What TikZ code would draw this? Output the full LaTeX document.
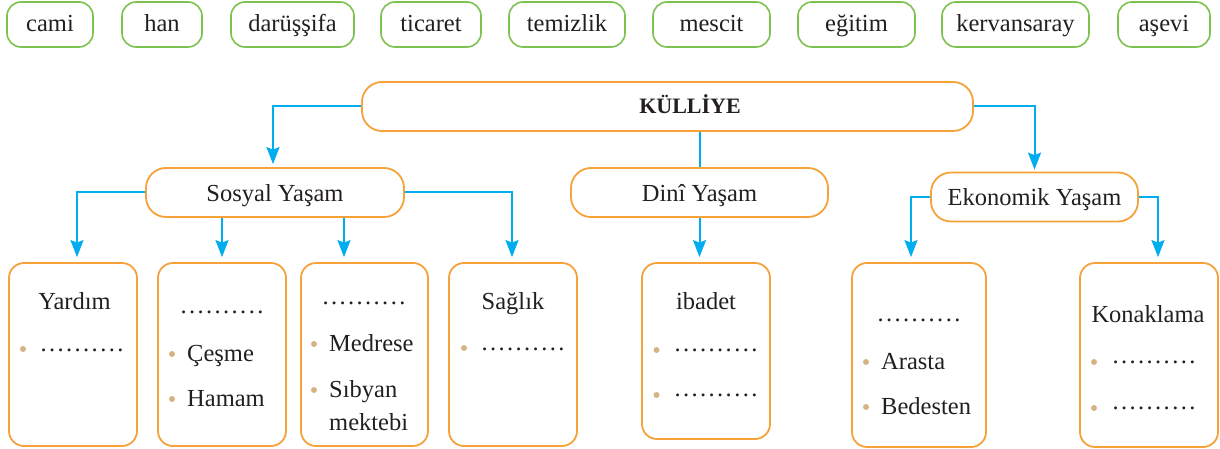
\documentclass[tikz,border=0pt]{standalone}
\usepackage{fontspec}
\setmainfont{Liberation Serif}
\usetikzlibrary{arrows.meta}
\newcommand{\BodyFont}{\fontsize{24.5}{33}\selectfont}
\newcommand{\HeadFont}{\fontsize{22}{26}\selectfont\bfseries}
\newcommand{\DotGap}{\kern2.4pt}
\newcommand{\Blank}{.\DotGap.\DotGap.\DotGap.\DotGap.\DotGap.\DotGap.\DotGap.\DotGap.\DotGap.}
\newcommand{\BulletR}{3}
\newcommand{\ListTop}{263}
\definecolor{WordGreen}{HTML}{7CC24E}
\definecolor{BoxOrange}{HTML}{F6A13A}
\definecolor{LinkBlue}{HTML}{00AEEF}
\definecolor{BulletTan}{HTML}{D4B483}
\definecolor{InkGray}{HTML}{231F20}
\tikzset{
	wordbox/.style={draw=WordGreen, line width=1.6pt, rounded corners=14pt, minimum height=45pt, inner sep=0pt, text height=15pt, text depth=0pt},
	headbox/.style={draw=BoxOrange, line width=1.8pt, rounded corners=20pt, minimum height=49pt, inner sep=0pt, text height=18pt, text depth=0pt},
	listbox/.style={draw=BoxOrange, line width=1.8pt, rounded corners=15pt, inner sep=0pt},
	link/.style={draw=LinkBlue, line width=2pt},
	entry/.style={inner sep=0pt, anchor=base west},
}

\begin{document}
\begin{tikzpicture}[x=1pt, y=-1pt, >={Stealth[length=17pt,width=13pt,inset=2.5pt]}, font=\BodyFont, text=InkGray]
	\useasboundingbox (0,0) rectangle (1220,449);
	
	\foreach \word/\cx/\bw [count=\i] in {cami/50/86, han/162/80, darüşşifa/292.5/123, ticaret/431/100, temizlik/567/116, mescit/711.5/117, eğitim/856.5/117, kervansaray/1015.5/147, aşevi/1164/92}{
		\node[wordbox, minimum width={\bw*1pt}] (w\i) at (\cx, 24.5) {\word};
	}
	
	\node[headbox, minimum width=611pt] (kulliye) at (667.5,106.5) {};
	\node[font=\HeadFont, anchor=base, inner sep=0pt] (kulliyetext) at (690,114) {KÜLLİYE};
	\node[headbox, minimum width=258pt] (sosyal) at (275,192.5) {Sosyal Yaşam};
	\node[headbox, minimum width=257pt] (dini) at (699.5,192.5) {Dinî Yaşam};
	\node[headbox, minimum width=207pt] (ekonomik) at (1034.5,197) {Ekonomik Yaşam};
	
	\foreach \nm/\xl/\xr/\yb in {b1/9/137/446, b2/158/286/446, b3/301/428/446, b4/449/577/446, b5/642/770/439, b6/852/986/447, b7/1080/1218/447}{
		\node[listbox, minimum width={(\xr-\xl)*1pt}, minimum height={(\yb-\ListTop)*1pt}] (\nm) at ({(\xl+\xr)/2}, {(\ListTop+\yb)/2}) {};
	}
	
	\foreach \bx/\by in {23/349, 172/354, 172/399, 314/344, 314/390, 464/348, 656.5/350, 656.5/395, 866/362, 866/407, 1094/362, 1094/408}{
		\fill[BulletTan] (\bx,\by) circle (\BulletR);
	}
	
	\node[entry, anchor=base] (yardim) at (74.5,309.5) {Yardım};
	\node[entry] (yardimdots) at (40.4,351.5) {\Blank};
	\node[entry, anchor=base] (b2dots) at (222,313.5) {\Blank};
	\node[entry] (cesme) at (187,361) {Çeşme};
	\node[entry] (hamam) at (187,406) {Hamam};
	\node[entry, anchor=base] (b3dots) at (364,304) {\Blank};
	\node[entry] (medrese) at (329,351) {Medrese};
	\node[entry] (sibyan) at (329,397) {Sıbyan};
	\node[entry] (mektebi) at (329,430) {mektebi};
	\node[entry, anchor=base] (saglik) at (513,309.5) {Sağlık};
	\node[entry] (saglikdots) at (481.4,350) {\Blank};
	\node[entry, anchor=base] (ibadet) at (706,309.5) {ibadet};
	\node[entry] (ibadetdots1) at (674.4,351.5) {\Blank};
	\node[entry] (ibadetdots2) at (674.4,396.5) {\Blank};
	\node[entry, anchor=base] (b6dots) at (919,321.5) {\Blank};
	\node[entry] (arasta) at (881,369) {Arasta};
	\node[entry] (bedesten) at (881,414) {Bedesten};
	\node[entry, anchor=base] (konaklama) at (1148,322) {Konaklama};
	\node[entry] (konakdots1) at (1112.4,363.5) {\Blank};
	\node[entry] (konakdots2) at (1112.4,409.5) {\Blank};
	
	\draw[link, ->, shorten >=3pt] (kulliye.west) -| ([xshift=-2pt]sosyal.north);
	\draw[link, ->, shorten >=2pt] (kulliye.east) -| (ekonomik.north);
	\draw[link] (kulliye.south -| dini.north) -- (dini.north);
	\draw[link, ->, shorten >=5pt] (dini.south) -- (dini.south |- b5.north);
	\draw[link, ->, shorten >=5pt] (sosyal.west) -| ([xshift=4pt]b1.north);
	\draw[link, ->, shorten >=5pt] (sosyal.south -| b2.north) -- (b2.north);
	\draw[link, ->, shorten >=5pt] ([xshift=-20.5pt]sosyal.south -| b3.north) -- ([xshift=-20.5pt]b3.north);
	\draw[link, ->, shorten >=5pt] (sosyal.east) -| ([xshift=-1pt]b4.north);
	\draw[link, ->, shorten >=5pt] (ekonomik.west) -| ([xshift=-8pt]b6.north);
	\draw[link, ->, shorten >=5pt] (ekonomik.east) -| ([xshift=9pt]b7.north);
\end{tikzpicture}
\end{document}
